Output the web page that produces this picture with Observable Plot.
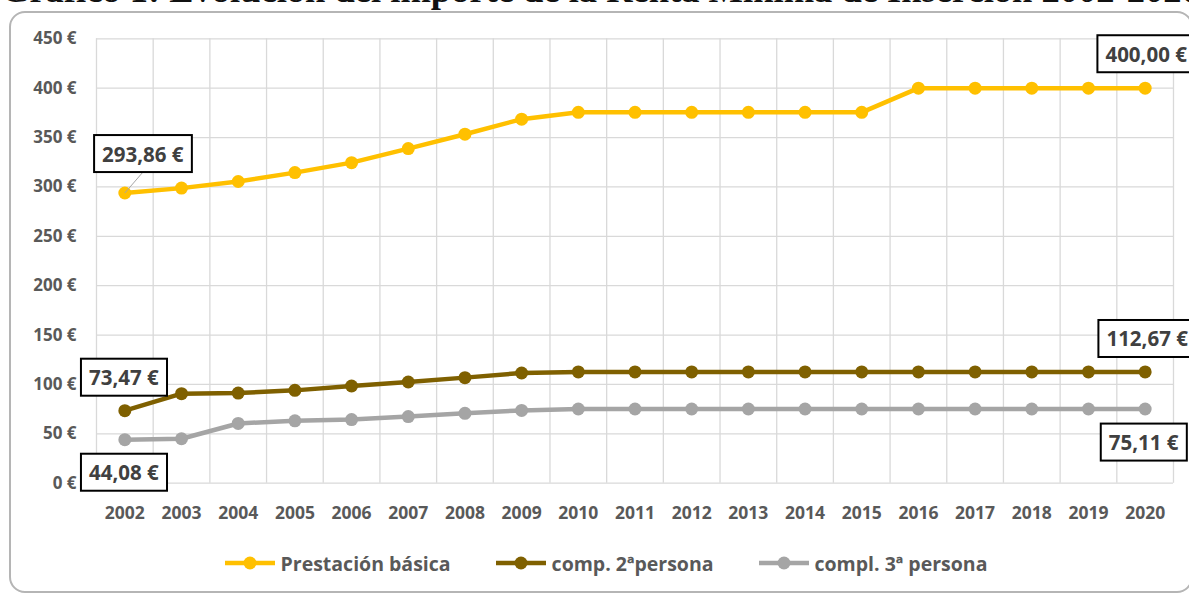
<!DOCTYPE html>
<html>
<head>
<meta charset="utf-8">
<script src="https://cdn.jsdelivr.net/npm/d3@7"></script>
<script src="https://cdn.jsdelivr.net/npm/@observablehq/plot@0.6"></script>
<style>
  html, body { margin: 0; padding: 0; background: #fff; overflow: hidden; width: 1189px; height: 594px; }
  #wrap { position: relative; width: 1189px; height: 594px; overflow: hidden; }
  #title { position: absolute; left: 1px; top: -28.5px; font-family: "Liberation Serif", "Times New Roman", serif; font-weight: bold; font-size: 36.5px; line-height: 36px; white-space: nowrap; color: #111; }
  #frame { position: absolute; left: 9px; top: 11px; width: 1184px; height: 582px; border: 2px solid #b5b5b5; border-radius: 16px; box-sizing: border-box; }
  #chart { position: absolute; left: 0; top: 0; }
  #legend { position: absolute; left: 22px; top: 550px; width: 1167px; height: 26px; display: flex; justify-content: center; align-items: center; gap: 44px; font-family: "Open Sans", sans-serif; font-weight: 700; font-size: 19.5px; color: #595959; }
  .item { display: flex; align-items: center; white-space: nowrap; }
  .item svg { margin-right: 5px; }
</style>
</head>
<body>
<div id="wrap">
  <div id="title">Gráfico 1: Evolución del importe de la Renta Mínima de Inserción 2002-2020</div>
  <div id="frame"></div>
  <div id="chart"></div>
  <div id="legend"></div>
</div>
<script>
// ---- data ----
const years = [2002, 2003, 2004, 2005, 2006, 2007, 2008, 2009, 2010, 2011, 2012, 2013, 2014, 2015, 2016, 2017, 2018, 2019, 2020];
const prestacionBasica = [293.86, 298.8, 305.5, 314.5, 324.6, 338.8, 353.4, 368.6, 375.55, 375.55, 375.55, 375.55, 375.55, 375.55, 400.00, 400.00, 400.00, 400.00, 400.00];
const comp2Persona = [73.47, 90.7, 91.3, 94.0, 98.4, 102.5, 106.9, 111.6, 112.67, 112.67, 112.67, 112.67, 112.67, 112.67, 112.67, 112.67, 112.67, 112.67, 112.67];
const compl3Persona = [44.08, 45.0, 60.5, 63.2, 64.4, 67.5, 70.8, 73.7, 75.11, 75.11, 75.11, 75.11, 75.11, 75.11, 75.11, 75.11, 75.11, 75.11, 75.11];
const seriesNames = ["Prestación básica", "comp. 2ªpersona", "compl. 3ª persona"];
const seriesColors = ["#FFC000", "#7F6000", "#A5A5A5"];
const yTicks = [0, 50, 100, 150, 200, 250, 300, 350, 400, 450];

// ---- build table ----
const seriesValues = [prestacionBasica, comp2Persona, compl3Persona];
const data = seriesNames.flatMap((s, k) => years.map((yr, i) => ({ year: yr, value: seriesValues[k][i], series: s })));
const boundaries = [years[0] - 0.5, ...years.map(y => y + 0.5)];
const fmtEuro = v => v.toFixed(2).replace(".", ",") + " €";

// annotation layout (which series / which end, and offsets)
const annotLayout = [
  { k: 0, end: "first", dx: 18, dy: -38, leader: true },
  { k: 0, end: "last", dx: 1, dy: -33 },
  { k: 1, end: "first", dx: -1, dy: -32 },
  { k: 1, end: "last", dx: 2, dy: -32 },
  { k: 2, end: "first", dx: -1, dy: 34 },
  { k: 2, end: "last", dx: -1.5, dy: 34.5 }
];
const annotMarks = annotLayout.map(a => {
  const i = a.end === "first" ? 0 : years.length - 1;
  const d = [{ year: years[i], value: seriesValues[a.k][i], label: fmtEuro(seriesValues[a.k][i]) }];
  return Plot.text(d, {
    x: "year", y: "value", text: "label",
    dx: a.dx, dy: a.dy,
    fontSize: 20.5, fontWeight: 700, fill: "#404040",
    textAnchor: "middle", lineAnchor: "middle"
  });
});

const gridColor = "#d9d9d9";
const chart = Plot.plot({
  width: 1189,
  height: 530,
  marginLeft: 96,
  marginRight: 16,
  marginTop: 38.3,
  marginBottom: 47.3,
  style: { fontFamily: "Open Sans, sans-serif", color: "#595959", background: "transparent", overflow: "visible" },
  x: { type: "linear", domain: [years[0] - 0.5, years[years.length - 1] + 0.5] },
  y: { domain: [0, 450] },
  color: { domain: seriesNames, range: seriesColors },
  marks: [
    Plot.ruleY(yTicks, { stroke: gridColor, strokeWidth: 1.3 }),
    Plot.ruleX(boundaries, { y1: 0, y2: 450, stroke: gridColor, strokeWidth: 1.3 }),
    Plot.axisX(years, { label: null, tickSize: 0, tickPadding: 23, tickFormat: d => String(d), fontSize: 17.5, fontWeight: 700, fill: "#595959" }),
    Plot.axisY(yTicks, { label: null, tickSize: 0, tickPadding: 20, tickFormat: d => `${d} €`, fontSize: 17, fontWeight: 700, fill: "#595959" }),
    Plot.line(data, { x: "year", y: "value", z: "series", stroke: "series", strokeWidth: 4.5, strokeLinejoin: "round", strokeLinecap: "round" }),
    Plot.dot(data, { x: "year", y: "value", fill: "series", r: 6.5 }),
    ...annotMarks
  ]
});
document.getElementById("chart").append(chart);

// boxes around annotation labels (sized from the rendered text)
const NS = "http://www.w3.org/2000/svg";
const padX = 8, padY = 4.5;
const textGroups = chart.querySelectorAll('g[aria-label="text"]');
textGroups.forEach((g, n) => {
  const a = annotLayout[n];
  if (!a) return;
  const t = g.querySelector("text");
  const b = t.getBBox();
  const tr = t.getAttribute("transform") || "";
  if (a.leader) {
    const ln = document.createElementNS(NS, "line");
    ln.setAttribute("transform", tr);
    ln.setAttribute("x1", b.x + b.width / 2);
    ln.setAttribute("y1", b.y + b.height + padY);
    ln.setAttribute("x2", -a.dx);
    ln.setAttribute("y2", -a.dy);
    ln.setAttribute("stroke", "#a6a6a6");
    ln.setAttribute("stroke-width", "1");
    g.insertBefore(ln, t);
  }
  const r = document.createElementNS(NS, "rect");
  r.setAttribute("transform", tr);
  r.setAttribute("x", b.x - padX);
  r.setAttribute("y", b.y - padY);
  r.setAttribute("width", b.width + 2 * padX);
  r.setAttribute("height", b.height + 2 * padY);
  r.setAttribute("fill", "#fff");
  r.setAttribute("stroke", "#000");
  r.setAttribute("stroke-width", "2");
  g.insertBefore(r, t);
});

// legend
const legend = document.getElementById("legend");
seriesNames.forEach((name, k) => {
  const item = document.createElement("div");
  item.className = "item";
  item.innerHTML = `<svg width="52" height="16"><line x1="1" y1="8" x2="51" y2="8" stroke="${seriesColors[k]}" stroke-width="4.5"/><circle cx="26" cy="8" r="6.5" fill="${seriesColors[k]}"/></svg><span>${name}</span>`;
  legend.append(item);
});
</script>
</body>
</html>
